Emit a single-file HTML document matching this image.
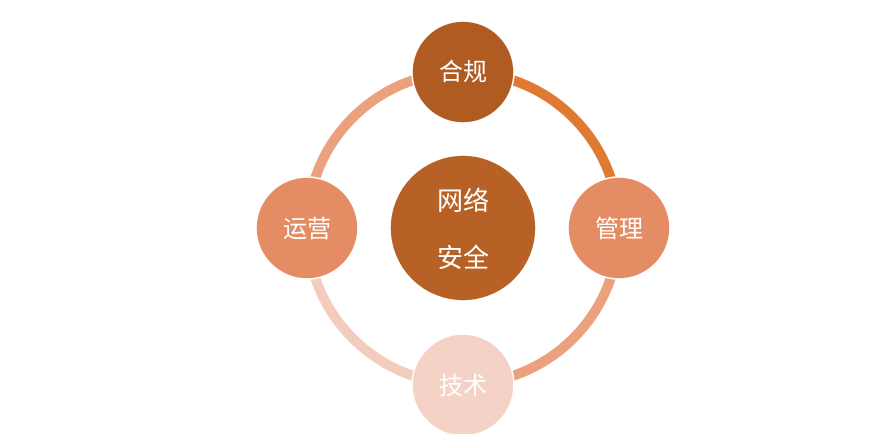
<!DOCTYPE html>
<html><head><meta charset="utf-8"><style>
html,body{margin:0;padding:0;background:#fff;width:887px;height:434px;overflow:hidden}
text{font-family:"Liberation Sans","Noto Sans CJK SC",sans-serif;fill:#fff}
</style></head><body>
<svg width="887" height="434" viewBox="0 0 887 434" xmlns="http://www.w3.org/2000/svg">
<g fill="none" stroke-width="10">
<path d="M463 72 A156 156 0 0 1 619 228" stroke="#E07A33"/>
<path d="M619 228 A156 156 0 0 1 463 384" stroke="#EBA07E"/>
<path d="M463 384 A156 156 0 0 1 307 228" stroke="#F4CCBE"/>
<path d="M307 228 A156 156 0 0 1 463 72" stroke="#EBA07E"/>
</g>
<g stroke="#fff" stroke-width="1.5">
<circle cx="463" cy="72" r="51" fill="#B05B22"/>
<circle cx="619" cy="228" r="51" fill="#E48C63"/>
<circle cx="463" cy="385" r="51" fill="#F4D3C6"/>
<circle cx="307" cy="228" r="51" fill="#E48C63"/>
<circle cx="463" cy="228" r="73" fill="#B86126"/>
</g>
<g font-size="24" text-anchor="middle">
<text x="463" y="80">合规</text>
<text x="619" y="237">管理</text>
<text x="463" y="394">技术</text>
<text x="307" y="237">运营</text>
<text x="463" y="210" font-size="26">网络</text>
<text x="463" y="267" font-size="26">安全</text>
</g>
</svg>
</body></html>
